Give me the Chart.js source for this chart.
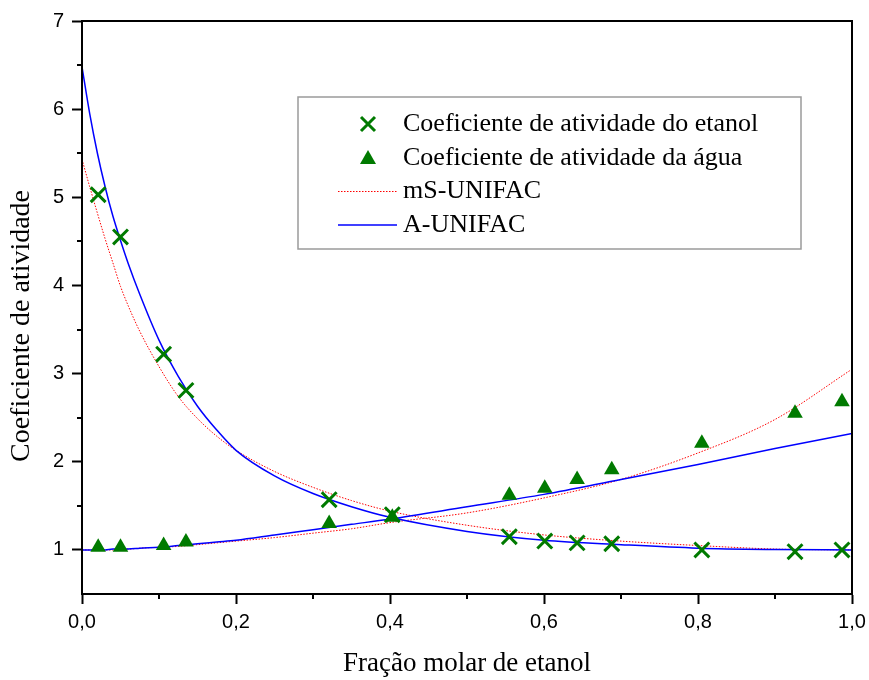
<!DOCTYPE html>
<html>
<head>
<meta charset="utf-8">
<script src="https://cdn.jsdelivr.net/npm/chart.js@4/dist/chart.umd.min.js"></script>
<style>
  html, body { margin: 0; padding: 0; background: #fff; }
  #wrap { width: 869px; height: 680px; }
</style>
</head>
<body>
<div id="wrap"><canvas id="chart" width="869" height="680"></canvas></div>
<script>
// experimental points (same x for both)
const xExp = [0.021, 0.050, 0.106, 0.135, 0.321, 0.403, 0.555, 0.601, 0.643, 0.688, 0.805, 0.926, 0.987];
const etanolExp = [5.03, 4.55, 3.22, 2.81, 1.57, 1.40, 1.15, 1.10, 1.08, 1.07, 1.00, 0.98, 1.00];
const aguaExp = [1.03, 1.03, 1.05, 1.09, 1.30, 1.37, 1.62, 1.70, 1.80, 1.91, 2.21, 2.55, 2.68];

// model curves
const xCurve = [0, 0.01, 0.02, 0.03, 0.04, 0.05, 0.06, 0.075, 0.1, 0.125, 0.15, 0.175, 0.2, 0.25, 0.3, 0.35, 0.4, 0.5, 0.6, 0.7, 0.8, 0.9, 1.0];
const etanolA = [6.48, 5.95, 5.50, 5.12, 4.79, 4.51, 4.25, 3.90, 3.38, 2.97, 2.63, 2.36, 2.13, 1.84, 1.64, 1.49, 1.37, 1.21, 1.11, 1.06, 1.02, 1.005, 1.00];
const etanolMS = [5.43, 5.12, 4.82, 4.53, 4.26, 3.99, 3.77, 3.48, 3.08, 2.74, 2.49, 2.29, 2.13, 1.89, 1.71, 1.56, 1.44, 1.28, 1.17, 1.10, 1.05, 1.01, 1.00];
const aguaA = [1.00, 1.00, 1.00, 1.00, 1.01, 1.01, 1.01, 1.02, 1.03, 1.05, 1.07, 1.09, 1.11, 1.17, 1.23, 1.29, 1.35, 1.49, 1.63, 1.80, 1.97, 2.15, 2.32];
const aguaMS = [1.00, 1.00, 1.00, 1.00, 1.00, 1.01, 1.01, 1.02, 1.03, 1.04, 1.06, 1.08, 1.10, 1.14, 1.19, 1.24, 1.31, 1.42, 1.59, 1.80, 2.10, 2.48, 3.05];

const xTicks = [0, 0.2, 0.4, 0.6, 0.8, 1.0];
const yTicks = [1, 2, 3, 4, 5, 6, 7];

const legendLabels = ["Coeficiente de atividade do etanol", "Coeficiente de atividade da água", "mS-UNIFAC", "A-UNIFAC"];
const yTitle = "Coeficiente de atividade";

const green = "#007a00";
const red = "#ff0000";
const blue = "#0000ff";
const serif = "'Liberation Serif', 'Times New Roman', serif";

function pts(xs, ys) {
    return xs.map((x, i) => ({ x: x, y: ys[i] }));
}

// box around plot + minor ticks + y title + legend box
const framePlugin = {
    id: "frame",
    afterDraw(chart) {
        const ctx = chart.ctx;
        const a = chart.chartArea;
        const xs = chart.scales.x, ys = chart.scales.y;
        ctx.save();
        ctx.strokeStyle = "#000";
        ctx.lineWidth = 2;
        ctx.strokeRect(a.left, a.top, a.right - a.left, a.bottom - a.top);
        // minor ticks
        ctx.beginPath();
        [0.1, 0.3, 0.5, 0.7, 0.9].forEach(v => {
            const px = Math.round(xs.getPixelForValue(v));
            ctx.moveTo(px, a.bottom);
            ctx.lineTo(px, a.bottom + 5);
        });
        [1.5, 2.5, 3.5, 4.5, 5.5, 6.5].forEach(v => {
            const py = Math.round(ys.getPixelForValue(v));
            ctx.moveTo(a.left, py);
            ctx.lineTo(a.left - 5, py);
        });
        ctx.stroke();

        // y title (sits a bit below the plot centre in the original)
        ctx.save();
        ctx.translate(22, 326);
        ctx.rotate(-Math.PI / 2);
        ctx.font = "28px " + serif;
        ctx.fillStyle = "#000";
        ctx.textAlign = "center";
        ctx.textBaseline = "middle";
        ctx.fillText(yTitle, 0, 0);
        ctx.restore();

        // legend
        const bx = 298, by = 97, bw = 503, bh = 152;
        ctx.fillStyle = "#fff";
        ctx.fillRect(bx, by, bw, bh);
        ctx.strokeStyle = "#9a9a9a";
        ctx.lineWidth = 1.5;
        ctx.strokeRect(bx, by, bw, bh);
        const rows = [124, 158, 191, 225];
        ctx.font = "26px " + serif;
        ctx.textBaseline = "middle";
        ctx.textAlign = "left";
        legendLabels.forEach((t, i) => {
            ctx.fillStyle = "#000";
            ctx.fillText(t, 403, rows[i]);
        });
        // x marker
        ctx.strokeStyle = green;
        ctx.lineWidth = 3;
        ctx.beginPath();
        ctx.moveTo(361, rows[0] - 7); ctx.lineTo(375, rows[0] + 7);
        ctx.moveTo(375, rows[0] - 7); ctx.lineTo(361, rows[0] + 7);
        ctx.stroke();
        // triangle
        ctx.fillStyle = green;
        ctx.beginPath();
        ctx.moveTo(368, rows[1] - 8);
        ctx.lineTo(376, rows[1] + 6);
        ctx.lineTo(360, rows[1] + 6);
        ctx.closePath();
        ctx.fill();
        // lines
        ctx.strokeStyle = red;
        ctx.lineWidth = 1;
        ctx.setLineDash([1.5, 1.5]);
        ctx.beginPath();
        ctx.moveTo(338, rows[2] + 0.5); ctx.lineTo(397, rows[2] + 0.5);
        ctx.stroke();
        ctx.setLineDash([]);
        ctx.strokeStyle = blue;
        ctx.lineWidth = 1.5;
        ctx.beginPath();
        ctx.moveTo(338, rows[3]); ctx.lineTo(397, rows[3]);
        ctx.stroke();
        ctx.restore();
    }
};

const curve = (label, ys, color, dashed) => ({
    label: label,
    type: "line",
    data: pts(xCurve, ys),
    borderColor: color,
    borderWidth: dashed ? 1 : 1.5,
    borderDash: dashed ? [1.5, 1.5] : [],
    pointRadius: 0,
    cubicInterpolationMode: "monotone",
    fill: false,
    order: dashed ? 2 : 1
});

new Chart(document.getElementById("chart"), {
    type: "scatter",
    data: {
        datasets: [
            {
                label: legendLabels[0],
                data: pts(xExp, etanolExp),
                pointStyle: "crossRot",
                pointRadius: 10.5,
                pointBorderWidth: 3,
                borderColor: green,
                backgroundColor: green,
                order: 0
            },
            {
                label: legendLabels[1],
                data: pts(xExp, aguaExp),
                pointStyle: "triangle",
                pointRadius: 9,
                pointBorderWidth: 0,
                borderColor: green,
                backgroundColor: green,
                order: 0
            },
            curve(legendLabels[2], etanolMS, red, true),
            curve(legendLabels[2], aguaMS, red, true),
            curve(legendLabels[3], etanolA, blue, false),
            curve(legendLabels[3], aguaA, blue, false)
        ]
    },
    options: {
        responsive: false,
        animation: false,
        layout: { padding: { left: 0, right: 17, top: 21, bottom: 0 } },
        plugins: { legend: { display: false }, tooltip: { enabled: false } },
        scales: {
            x: {
                type: "linear",
                min: 0,
                max: 1,
                afterBuildTicks: s => { s.ticks = xTicks.map(v => ({ value: v })); },
                afterFit: s => { s.height = 86; s.paddingRight = 0; s.paddingLeft = 0; },
                grid: { drawOnChartArea: false, tickLength: 10, tickWidth: 2, color: "#000" },
                border: { color: "#000", width: 2 },
                ticks: {
                    color: "#000",
                    padding: 6,
                    font: { family: "'Liberation Sans', Arial, sans-serif", size: 20 },
                    callback: v => v.toFixed(1).replace(".", ",")
                },
                title: {
                    display: true,
                    text: "Fração molar de etanol",
                    color: "#000",
                    padding: { top: 0, bottom: 0 },
                    font: { family: serif, size: 27, weight: "normal" }
                }
            },
            y: {
                type: "linear",
                min: 0.5,
                max: 7,
                afterBuildTicks: s => { s.ticks = yTicks.map(v => ({ value: v })); },
                afterFit: s => { s.width = 82; },
                grid: { drawOnChartArea: false, tickLength: 10, tickWidth: 2, color: "#000" },
                border: { color: "#000", width: 2 },
                ticks: {
                    color: "#000",
                    padding: 8,
                    font: { family: "'Liberation Sans', Arial, sans-serif", size: 20 },
                    callback: v => String(v)
                }
            }
        }
    },
    plugins: [framePlugin]
});
</script>
</body>
</html>
